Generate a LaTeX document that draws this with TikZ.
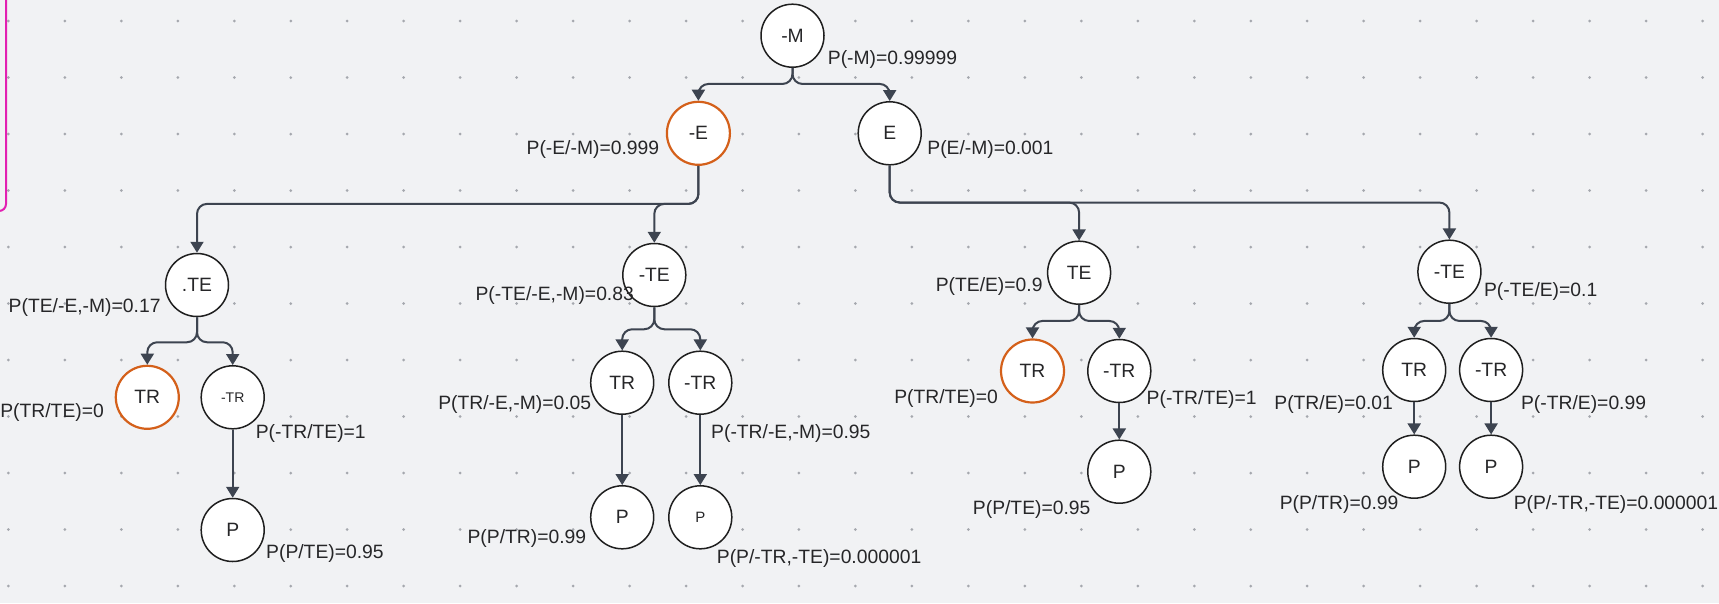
\documentclass[tikz,border=0pt]{standalone}
\usepackage{fontspec}
\setmainfont{Liberation Sans}
\usetikzlibrary{arrows.meta}

\definecolor{canvas}{RGB}{241,242,244}
\definecolor{griddot}{RGB}{165,168,174}
\definecolor{wire}{RGB}{61,68,80}
\definecolor{pick}{RGB}{212,96,26}
\definecolor{frame}{RGB}{226,32,178}
\definecolor{ink}{RGB}{38,38,40}

\begin{document}
\begin{tikzpicture}[
    x=1pt, y=-1pt,
    >={Triangle[width=13pt,length=11pt]},
    font=\fontsize{19.3}{22}\selectfont,
    event/.style={circle, draw=black!88, line width=1.5pt, fill=white, text=ink,
        minimum size=63pt, inner sep=0pt},
    chosen/.style={event, draw=pick, line width=2.2pt},
    prob/.style={inner sep=0pt, text=ink},
    branch/.style={->, draw=wire, line width=2pt, rounded corners=10pt}
]

    % Canvas and dot grid
    \fill[canvas] (0,0) rectangle (1719,603);
    \useasboundingbox (0,0) rectangle (1719,603);
    \foreach \i in {0,...,30}
        \foreach \j in {0,...,10}
            \fill[griddot] (8.4+56.47*\i, 21+56.5*\j) circle (1.5pt);

    % Edge of a frame on the left
    \draw[frame, line width=2pt, rounded corners=7pt] (6,-5) -- (6,211) -- (-10,211);

    % Root
    \node[event] (M) at (792.5, 35.7) {-M};

    % Second level
    \node[chosen] (nE) at (698.4, 133.3) {-E};
    \node[event] (E) at (889.7, 133.3) {E};

    % Third level
    \node[event] (TE1) at (197, 285) {.TE};
    \node[event] (nTE1) at (654.3, 275) {-TE};
    \node[event] (TE2) at (1079.1, 272.7) {TE};
    \node[event] (nTE2) at (1449.4, 271.7) {-TE};

    % Fourth level
    \node[chosen] (TR1) at (147.3, 397.3) {TR};
    \node[event, font=\fontsize{14}{16}\selectfont] (nTR1) at (232.7, 397.3) {-TR};
    \node[event] (TR2) at (622.2, 382.7) {TR};
    \node[event] (nTR2) at (700.3, 382.7) {-TR};
    \node[chosen] (TR3) at (1032.5, 371) {TR};
    \node[event] (nTR3) at (1119.3, 371) {-TR};
    \node[event] (TR4) at (1414.2, 370) {TR};
    \node[event] (nTR4) at (1491.1, 370) {-TR};

    % Leaves
    \node[event] (P1) at (232.7, 530) {P};
    \node[event] (P2) at (622.2, 517.3) {P};
    \node[event, font=\fontsize{15}{18}\selectfont] (P3) at (700.3, 517.3) {P};
    \node[event] (P4) at (1119.3, 471.7) {P};
    \node[event] (P5) at (1414.2, 466.7) {P};
    \node[event] (P6) at (1491.1, 466.7) {P};

    % Connections
    \draw[branch] (M.south) -- ++(0,16) -| (nE.north);
    \draw[branch] (M.south) -- ++(0,16) -| (E.north);

    \draw[branch] (nE.south) -- ++(0,38) -| (nTE1.north);
    \draw[branch] (nE.south) -- ++(0,38) -| (TE1.north);
    \draw[branch] (E.south) -- ++(0,37) -| (TE2.north);
    \draw[branch] (E.south) -- ++(0,37) -| (nTE2.north);

    \draw[branch] (TE1.south) -- ++(0,25) -| (TR1.north);
    \draw[branch] (TE1.south) -- ++(0,25) -| (nTR1.north);
    \draw[branch] (nTE1.south) -- ++(0,22) -| (TR2.north);
    \draw[branch] (nTE1.south) -- ++(0,22) -| (nTR2.north);
    \draw[branch] (TE2.south) -- ++(0,16) -| (TR3.north);
    \draw[branch] (TE2.south) -- ++(0,16) -| (nTR3.north);
    \draw[branch] (nTE2.south) -- ++(0,17) -| (TR4.north);
    \draw[branch] (nTE2.south) -- ++(0,17) -| (nTR4.north);

    \draw[branch] (nTR1.south) -- (P1.north);
    \draw[branch] (TR2.south) -- (P2.north);
    \draw[branch] (nTR2.south) -- (P3.north);
    \draw[branch] (nTR3.south) -- (P4.north);
    \draw[branch] (TR4.south) -- (P5.north);
    \draw[branch] (nTR4.south) -- (P6.north);

    % Probabilities
    \node[prob, anchor=west] (pM) at (827.7, 60) {P(-M)=0.99999};
    \node[prob, anchor=east] (pnE) at (659.3, 150) {P(-E/-M)=0.999};
    \node[prob, anchor=west] (pE) at (927.2, 150) {P(E/-M)=0.001};

    \node[prob, anchor=east] (pTE1) at (160.7, 307.3) {P(TE/-E,-M)=0.17};
    \node[prob, anchor=east] (pnTE1) at (634, 295) {P(-TE/-E,-M)=0.83};
    \node[prob, anchor=east] (pTE2) at (1042.7, 286.7) {P(TE/E)=0.9};
    \node[prob, anchor=west] (pnTE2) at (1483.9, 291.7) {P(-TE/E)=0.1};

    \node[prob, anchor=east] (pTR1) at (104, 412.7) {P(TR/TE)=0};
    \node[prob, anchor=west] (pnTR1) at (255.6, 433.3) {P(-TR/TE)=1};
    \node[prob, anchor=east] (pTR2) at (591.3, 404) {P(TR/-E,-M)=0.05};
    \node[prob, anchor=west] (pnTR2) at (711, 433.3) {P(-TR/-E,-M)=0.95};
    \node[prob, anchor=east] (pTR3) at (998, 398.3) {P(TR/TE)=0};
    \node[prob, anchor=west] (pnTR3) at (1146.5, 399) {P(-TR/TE)=1};
    \node[prob, anchor=east] (pTR4) at (1393.1, 404.3) {P(TR/E)=0.01};
    \node[prob, anchor=west] (pnTR4) at (1520.9, 404.3) {P(-TR/E)=0.99};

    \node[prob, anchor=west] (pP1) at (266, 553.3) {P(P/TE)=0.95};
    \node[prob, anchor=east] (pP2) at (586.3, 538.3) {P(P/TR)=0.99};
    \node[prob, anchor=west] (pP3) at (716.7, 558.3) {P(P/-TR,-TE)=0.000001};
    \node[prob, anchor=east] (pP4) at (1090.6, 509.3) {P(P/TE)=0.95};
    \node[prob, anchor=west] (pP5) at (1279.6, 504) {P(P/TR)=0.99};
    \node[prob, anchor=west] (pP6) at (1513.6, 504) {P(P/-TR,-TE)=0.000001};

\end{tikzpicture}
\end{document}
